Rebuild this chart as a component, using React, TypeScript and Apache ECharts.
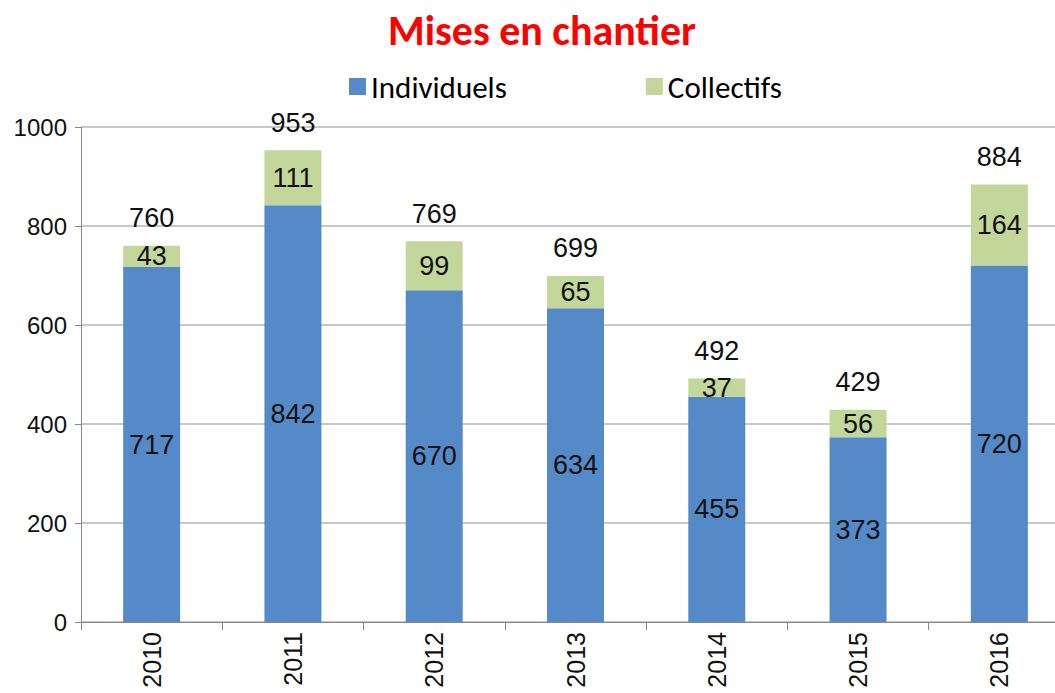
import React, { useEffect, useRef } from "react";
import * as echarts from "echarts";

const years = ["2010", "2011", "2012", "2013", "2014", "2015", "2016"];
const individuels = [717, 842, 670, 634, 455, 373, 720];
const collectifs = [43, 111, 99, 65, 37, 56, 164];
const totals = [760, 953, 769, 699, 492, 429, 884];
const yTicks = [0, 200, 400, 600, 800, 1000];

const BLUE = "#558ac8";
const GREEN = "#c4d79b";
const NUM_FONT = "'Liberation Sans', Arial, sans-serif";
const TXT_FONT = "Carlito, 'Open Sans', sans-serif";

export default function App() {
  const ref = useRef<HTMLDivElement>(null);
  useEffect(() => {
    if (!ref.current) return;
    const chart = echarts.init(ref.current, undefined, { renderer: "svg" });
    chart.setOption({
      animation: false,
      backgroundColor: "#ffffff",
      title: {
        text: "Mises en chantier",
        left: 537,
        top: 4,
        textAlign: "center",
        textStyle: { color: "#ff0000", fontSize: 42, fontWeight: "bold", fontFamily: TXT_FONT },
      },
      legend: {
        data: ["Individuels", "Collectifs"],
        left: 349,
        top: 71,
        padding: 0,
        itemWidth: 17,
        itemHeight: 17,
        itemGap: 139,
        icon: "rect",
        textStyle: { fontSize: 31, color: "#000", fontFamily: TXT_FONT },
      },
      grid: { left: 81, right: 0, top: 127, bottom: 71, containLabel: false },
      xAxis: {
        type: "category",
        data: years,
        axisLine: { lineStyle: { color: "#888", width: 1 } },
        axisTick: { show: true, length: 8, lineStyle: { color: "#888" } },
        axisLabel: { rotate: 90, fontSize: 25, color: "#111", margin: 10, fontFamily: NUM_FONT },
      },
      yAxis: {
        type: "value",
        min: yTicks[0],
        max: yTicks[yTicks.length - 1],
        interval: 200,
        axisLine: { show: true, lineStyle: { color: "#888", width: 1 } },
        axisTick: { show: true, length: 6, lineStyle: { color: "#888" } },
        axisLabel: {
          fontSize: 24,
          color: "#111",
          margin: 14,
          fontFamily: NUM_FONT,
          formatter: (v: number) => String(v),
        },
        splitLine: { lineStyle: { color: "#c8c8c8", width: 2 } },
      },
      series: [
        {
          name: "Individuels",
          type: "bar",
          stack: "s",
          data: individuels,
          barWidth: 57,
          itemStyle: { color: BLUE },
          label: { show: true, position: "inside", fontSize: 27, color: "#111", fontFamily: NUM_FONT },
        },
        {
          name: "Collectifs",
          type: "bar",
          stack: "s",
          data: collectifs,
          barWidth: 57,
          itemStyle: { color: GREEN },
          label: { show: true, position: "inside", fontSize: 27, color: "#111", fontFamily: NUM_FONT },
        },
        {
          name: "Total",
          type: "bar",
          stack: "s",
          data: totals.map(() => 0),
          barWidth: 57,
          itemStyle: { color: "transparent" },
          label: {
            show: true,
            position: "top",
            distance: 14,
            fontSize: 27,
            color: "#111",
            fontFamily: NUM_FONT,
            formatter: (p: any) => String(totals[p.dataIndex]),
          },
        },
      ],
    });
    return () => chart.dispose();
  }, []);
  return (
    <div
      ref={ref}
      style={{ position: "fixed", left: 0, top: 0, width: 1070, height: 693 }}
    />
  );
}
